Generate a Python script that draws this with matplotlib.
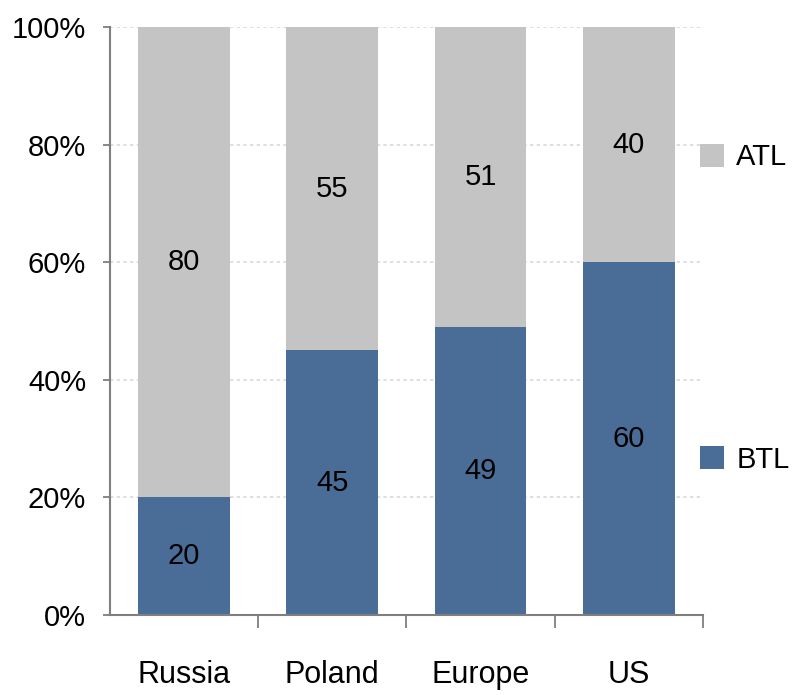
import matplotlib.pyplot as plt
from matplotlib.ticker import FixedLocator, PercentFormatter

plt.rcParams["font.family"] = ["Liberation Sans", "DejaVu Sans"]

regions = ["Russia", "Poland", "Europe", "US"]
btl_share = [20, 45, 49, 60]
atl_share = [80, 55, 51, 40]

BTL_COLOR = "#4a6d98"
ATL_COLOR = "#c4c4c4"
AXIS_COLOR = "#7f7f7f"


def main():
    fig = plt.figure(figsize=(7.96, 6.95), dpi=100)
    ax = fig.add_axes([0.138, 0.115, 0.745, 0.846])

    x = range(len(regions))
    btl = ax.bar(x, btl_share, width=0.62, color=BTL_COLOR, label="BTL", zorder=2)
    atl = ax.bar(x, atl_share, width=0.62, bottom=btl_share, color=ATL_COLOR,
                 label="ATL", zorder=2)

    ax.bar_label(btl, labels=[str(v) for v in btl_share], label_type="center",
                 fontsize=21, color="black")
    ax.bar_label(atl, labels=[str(v) for v in atl_share], label_type="center",
                 fontsize=21, color="black")

    ax.set_xlim(-0.5, 3.5)
    ax.set_ylim(0, 100)
    ax.set_yticks(range(0, 101, 20))
    ax.yaxis.set_major_formatter(PercentFormatter(decimals=0))
    ax.set_xticks(list(x))
    ax.set_xticklabels(regions)
    # separators between the region groups
    ax.xaxis.set_minor_locator(FixedLocator([0.5, 1.5, 2.5, 3.5]))

    ax.tick_params(axis="y", labelsize=21, length=5, width=1.3, color=AXIS_COLOR, pad=12)
    ax.tick_params(axis="x", which="major", labelsize=22, length=0, pad=32)
    ax.tick_params(axis="x", which="minor", length=9, width=1.3, color=AXIS_COLOR)

    for side in ("top", "right"):
        ax.spines[side].set_visible(False)
    for side in ("left", "bottom"):
        ax.spines[side].set_color(AXIS_COLOR)
        ax.spines[side].set_linewidth(1.5)

    ax.grid(axis="y", color="#d9d9d9", linestyle=(0, (2, 2)), linewidth=1.2, zorder=0)
    ax.set_axisbelow(True)

    ax.legend(handles=[atl, btl], loc="center left", bbox_to_anchor=(0.879, 0.556),
              bbox_transform=fig.transFigure, frameon=False, fontsize=21,
              handlelength=0.85, handleheight=0.85, handletextpad=0.4,
              labelspacing=9.4, borderpad=0, borderaxespad=0)

    fig.savefig("out.png", dpi=100)
    plt.close(fig)


if __name__ == "__main__":
    main()
